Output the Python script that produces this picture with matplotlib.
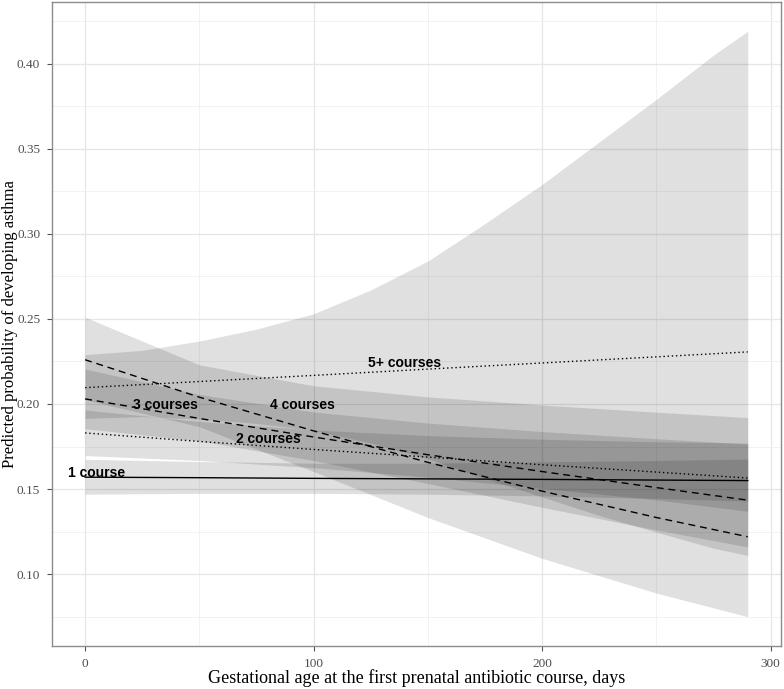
import matplotlib
matplotlib.use("Agg")
import matplotlib.pyplot as plt
import numpy as np

# Gestational age grid (days) and predicted probabilities
days = [0, 50, 100, 150, 200, 250, 290]

fit_1 = [0.1570, 0.1567, 0.1563, 0.1560, 0.1557, 0.1553, 0.1550]
lo_1 = [0.1470, 0.1475, 0.1475, 0.1470, 0.1460, 0.1445, 0.1430]
hi_1 = [0.1675, 0.1662, 0.1652, 0.1652, 0.1660, 0.1668, 0.1676]

fit_2 = [0.1830, 0.1780, 0.1733, 0.1688, 0.1643, 0.1600, 0.1565]
lo_2 = [0.1697, 0.1668, 0.1626, 0.1570, 0.1505, 0.1437, 0.1370]
hi_2 = [0.1965, 0.1897, 0.1847, 0.1814, 0.1793, 0.1778, 0.1770]

fit_3 = [0.2030, 0.1915, 0.1806, 0.1702, 0.1603, 0.1509, 0.1435]
lo_3 = [0.1855, 0.1783, 0.1668, 0.1533, 0.1393, 0.1260, 0.1160]
hi_3 = [0.2206, 0.2056, 0.1953, 0.1888, 0.1838, 0.1796, 0.1765]

fit_4 = [0.2260, 0.2040, 0.1842, 0.1657, 0.1488, 0.1333, 0.1220]
lo_4 = [0.2025, 0.1867, 0.1603, 0.1333, 0.1093, 0.0889, 0.0750]
hi_4 = [0.2510, 0.2230, 0.2107, 0.2042, 0.1994, 0.1952, 0.1920]

fit_5 = [0.2096, 0.2132, 0.2168, 0.2205, 0.2241, 0.2277, 0.2306]

# 5+ courses band is strongly curved, so it is read on a finer grid
days_5 = [0, 25, 50, 75, 100, 125, 150, 175, 200, 225, 250, 275, 290]
lo_5 = [0.1916, 0.1926, 0.1912, 0.1886, 0.1845, 0.1771, 0.1679,
        0.1563, 0.1454, 0.1345, 0.1247, 0.1153, 0.1110]
hi_5 = [0.2290, 0.2315, 0.2370, 0.2440, 0.2530, 0.2670, 0.2840,
        0.3060, 0.3290, 0.3540, 0.3790, 0.4050, 0.4190]

labels = ["1 course", "2 courses", "3 courses", "4 courses", "5+ courses"]
label_x = [5, 80, 35, 95, 140]
label_y = [0.1594, 0.1796, 0.1992, 0.1994, 0.2243]

dotted = (0, (1, 2))
dashed = (0, (5, 3.5))
bands = [(days, lo_1, hi_1), (days, lo_2, hi_2), (days, lo_3, hi_3),
         (days, lo_4, hi_4), (days_5, lo_5, hi_5)]
lines = [(fit_1, "-"), (fit_2, dotted), (fit_3, dashed),
         (fit_4, dashed), (fit_5, dotted)]

fig = plt.figure(figsize=(7.84, 6.89), dpi=100)
ax = fig.add_axes([0.0663, 0.0624, 0.9297, 0.9347])

# ribbons first, then the lines on top
for xs, lo, hi in bands:
    ax.fill_between(xs, lo, hi, color="black", alpha=0.12, linewidth=0)
for fit, ls in lines:
    ax.plot(days, fit, color="black", linestyle=ls, linewidth=1.0)

for txt, x, y in zip(labels, label_x, label_y):
    ax.text(x, y, txt, ha="center", va="center", fontsize=10,
            fontweight="bold", family="Liberation Sans", color="black")

ax.set_xlim(-14.5, 304.5)
ax.set_ylim(0.0578, 0.4362)
ax.set_xticks([0, 100, 200, 300])
ax.set_xticks([50, 150, 250], minor=True)
ax.set_yticks([0.10, 0.15, 0.20, 0.25, 0.30, 0.35, 0.40])
ax.set_yticks([0.075, 0.125, 0.175, 0.225, 0.275, 0.325, 0.375, 0.425], minor=True)
ax.set_yticklabels(["0.10", "0.15", "0.20", "0.25", "0.30", "0.35", "0.40"])

ax.grid(which="major", color="#e6e6e6", linewidth=0.9)
ax.grid(which="minor", color="#f0f0f0", linewidth=0.6)
ax.set_axisbelow(True)

for side in ax.spines.values():
    side.set_color("#8c8c8c")
    side.set_linewidth(1.0)

ax.tick_params(which="major", length=3.5, width=0.8, color="#555555",
               labelsize=9.5, labelcolor="#4d4d4d", pad=5)
ax.tick_params(which="minor", length=0)
for lab in ax.get_xticklabels() + ax.get_yticklabels():
    lab.set_family("Liberation Serif")

ax.set_xlabel("Gestational age at the first prenatal antibiotic course, days",
              family="Liberation Serif", fontsize=13, va="center")
ax.set_ylabel("Predicted probability of developing asthma",
              family="Liberation Serif", fontsize=12, va="center")
ax.xaxis.set_label_coords(0.5, -0.05)
ax.yaxis.set_label_coords(-0.0575, 0.5)

fig.savefig("out.png", dpi=100)
